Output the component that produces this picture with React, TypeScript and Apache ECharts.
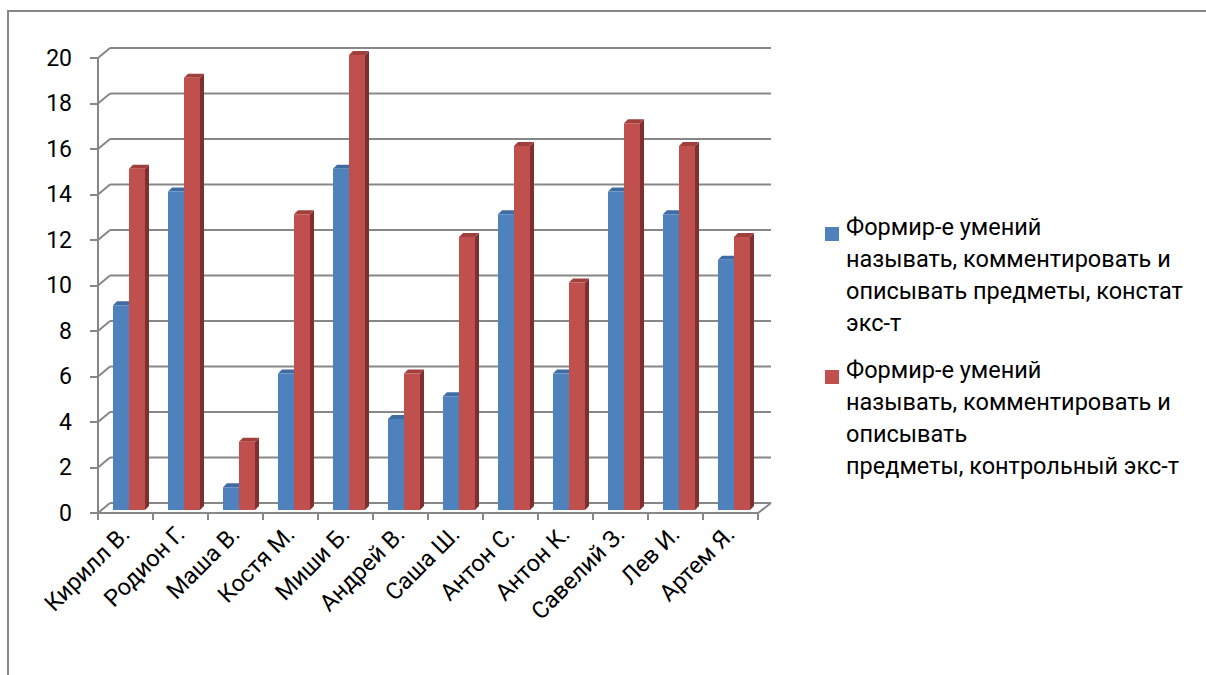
import React, { useEffect, useRef } from "react";
import * as echarts from "echarts";

// Pupils and their scores in the two experiment stages
const categories = [
  "Кирилл В.",
  "Родион Г.",
  "Маша В.",
  "Костя М.",
  "Миши Б.",
  "Андрей В.",
  "Саша Ш.",
  "Антон С.",
  "Антон К.",
  "Савелий З.",
  "Лев И.",
  "Артем Я.",
];
const constatValues = [9, 14, 1, 6, 15, 4, 5, 13, 6, 14, 13, 11];
const controlValues = [15, 19, 3, 13, 20, 6, 12, 16, 10, 17, 16, 12];
const seriesNames = [
  "Формир-е умений\nназывать, комментировать и\nописывать предметы, констат\nэкс-т",
  "Формир-е умений\nназывать, комментировать и\nописывать\nпредметы, контрольный экс-т",
];
const yTicks = [0, 2, 4, 6, 8, 10, 12, 14, 16, 18, 20];

const FONT = "Roboto";
const GRID_COLOR = "#878787";
const DEPTH_X = 12;
const DEPTH_Y = 10;

const palettes = [
  { front: "#4F81BD", top: "#3F6CA3", side: "#385D8A" },
  { front: "#C0504D", top: "#A03F3C", side: "#7F302E" },
];

// 3D-looking column: front face, top cap and right side
function makeBarRenderer(slot: number) {
  const pal = palettes[slot];
  return (_params: any, api: any) => {
    const idx = api.value(0);
    const val = api.value(1);
    const base = api.coord([idx, 0]);
    const top = api.coord([idx, val]);
    const cw = api.size([1, 0])[0];
    const w = (cw * 16) / 55;
    const x = base[0] - cw / 2 + (cw * 15) / 55 + slot * w;
    const lift = 3;
    const d = 4;
    const yb = base[1] - lift;
    const yt = top[1] - lift;
    return {
      type: "group",
      children: [
        {
          type: "polygon",
          shape: { points: [[x + w, yb], [x + w + d, yb - d], [x + w + d, yt - d], [x + w, yt]] },
          style: { fill: pal.side },
        },
        {
          type: "polygon",
          shape: { points: [[x, yt], [x + w, yt], [x + w + d, yt - d], [x + d, yt - d]] },
          style: { fill: pal.top },
        },
        {
          type: "rect",
          shape: { x, y: yt, width: w, height: yb - yt },
          style: { fill: pal.front },
        },
      ],
    };
  };
}

// Back wall gridlines with the diagonal joining them to the front axis
function wallRenderer(_params: any, api: any) {
  const v = api.value(1);
  const first = api.coord([0, v]);
  const last = api.coord([categories.length - 1, v]);
  const cw = api.size([1, 0])[0];
  const xl = first[0] - cw / 2;
  const xr = last[0] + cw / 2;
  const y = first[1];
  const lineStyle = { stroke: GRID_COLOR, lineWidth: 2, fill: null };
  const children: any[] = [
    { type: "line", shape: { x1: xl, y1: y, x2: xl + DEPTH_X, y2: y - DEPTH_Y }, style: lineStyle },
    { type: "line", shape: { x1: xl + DEPTH_X, y1: y - DEPTH_Y, x2: xr + DEPTH_X + 1, y2: y - DEPTH_Y }, style: lineStyle },
  ];
  if (v === 0) {
    children.push({
      type: "line",
      shape: { x1: xr, y1: y, x2: xr + DEPTH_X + 1, y2: y - DEPTH_Y },
      style: lineStyle,
    });
  }
  return { type: "group", children };
}

export default function App() {
  const ref = useRef<HTMLDivElement>(null);

  useEffect(() => {
    if (!ref.current) return;
    const chart = echarts.init(ref.current, null, { renderer: "svg" });

    const legendGraphics = seriesNames.map((name, i) => ({
      type: "group",
      left: 825,
      top: i === 0 ? 211 : 354,
      children: [
        {
          type: "rect",
          shape: { x: 0, y: 16, width: 14, height: 14 },
          style: { fill: palettes[i].front },
        },
        {
          type: "text",
          x: 21,
          y: 0,
          style: {
            text: name,
            font: `23.5px ${FONT}`,
            lineHeight: 32,
            fill: "#000000",
            verticalAlign: "top",
          },
        },
      ],
    }));

    chart.setOption({
      animation: false,
      backgroundColor: "#ffffff",
      grid: { left: 98, top: 58, width: 660, height: 455, containLabel: false },
      xAxis: {
        type: "category",
        data: categories,
        boundaryGap: true,
        axisLine: { show: true, lineStyle: { color: GRID_COLOR, width: 2 } },
        axisTick: { show: true, length: 7, alignWithLabel: false, lineStyle: { color: GRID_COLOR, width: 2 } },
        axisLabel: {
          interval: 0,
          rotate: 45,
          margin: 17,
          color: "#000000",
          fontFamily: FONT,
          fontSize: 23.5,
        },
        splitLine: { show: false },
      },
      yAxis: {
        type: "value",
        min: 0,
        max: 20,
        interval: 2,
        axisLine: { show: true, lineStyle: { color: GRID_COLOR, width: 2 } },
        axisTick: { show: true, length: 8, lineStyle: { color: GRID_COLOR, width: 2 } },
        axisLabel: { margin: 26, color: "#000000", fontFamily: FONT, fontSize: 23 },
        splitLine: { show: false },
      },
      graphic: [
        {
          type: "line",
          shape: { x1: 8, y1: 11, x2: 1206, y2: 11 },
          style: { stroke: GRID_COLOR, lineWidth: 2 },
        },
        {
          type: "line",
          shape: { x1: 8, y1: 10, x2: 8, y2: 675 },
          style: { stroke: GRID_COLOR, lineWidth: 2 },
        },
        ...legendGraphics,
      ],
      series: [
        {
          type: "custom",
          name: "wall",
          clip: false,
          silent: true,
          renderItem: wallRenderer,
          data: yTicks.map((v) => [0, v]),
          encode: { x: 0, y: 1 },
          z: 1,
        },
        {
          type: "custom",
          name: seriesNames[0],
          clip: false,
          renderItem: makeBarRenderer(0),
          data: constatValues.map((v, i) => [i, v]),
          encode: { x: 0, y: 1 },
          z: 2,
        },
        {
          type: "custom",
          name: seriesNames[1],
          clip: false,
          renderItem: makeBarRenderer(1),
          data: controlValues.map((v, i) => [i, v]),
          encode: { x: 0, y: 1 },
          z: 3,
        },
      ],
    });

    return () => chart.dispose();
  }, []);

  return (
    <div
      ref={ref}
      style={{ position: "fixed", left: 0, top: 0, width: 1206, height: 675, background: "#ffffff" }}
    />
  );
}
